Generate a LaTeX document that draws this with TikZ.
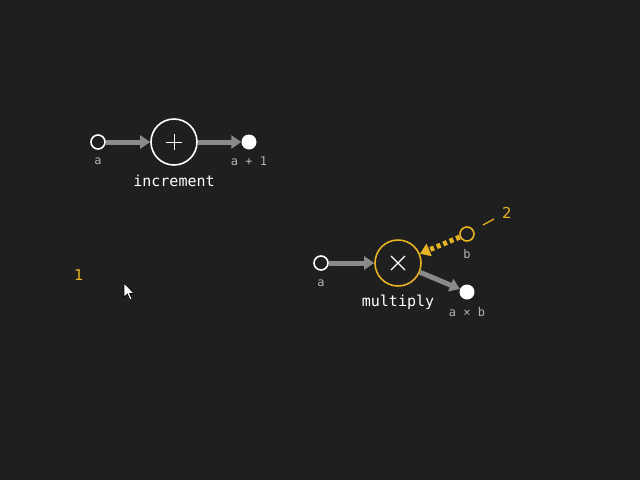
\documentclass[tikz,border=0pt]{standalone}
\usepackage{fontspec}
\setmonofont{DejaVu Sans Mono}
\setsansfont{DejaVu Sans}
\usetikzlibrary{arrows.meta}
\definecolor{bg}{HTML}{1F1F1F}
\definecolor{yel}{HTML}{E6B422}
\definecolor{arr}{HTML}{8A8A8A}
\definecolor{lbl}{HTML}{B4B4B4}
\begin{document}
\begin{tikzpicture}[x=1pt,y=-1pt,
  port/.style={circle,draw=white,line width=1.6pt,fill=bg,minimum size=14pt,inner sep=0pt},
  outport/.style={circle,fill=white,minimum size=15pt,inner sep=0pt},
  op/.style={circle,draw=white,line width=1.6pt,minimum size=46pt,inner sep=0pt,text=white},
  flow/.style={arr,line width=5pt,-{Triangle[length=10pt,width=13pt]}},
  lab/.style={text=lbl,font=\ttfamily\fontsize{12}{12}\selectfont},
  opname/.style={text=white,font=\ttfamily\fontsize{15}{15}\selectfont},
  ann/.style={text=yel,font=\sffamily\fontsize{15}{15}\selectfont}]
\fill[bg] (0,0) rectangle (640,480);
\useasboundingbox (0,0) rectangle (640,480);
% increment
\node[port] (ia) at (98,142) {};
\node[op] (inc) at (174,142) {};
\draw[white,line width=1pt] (166,142) -- (182,142) (174,134) -- (174,150);
\node[outport] (io) at (249,142) {};
\draw[flow] (ia) -- (inc);
\draw[flow] (inc) -- (io);
\node[lab] (ial) at (98,161) {a};
\node[lab] (iol) at (249,161) {a + 1};
\node[opname] (incn) at (174,181) {increment};
% multiply
\node[port] (ma) at (321,263) {};
\node[op,draw=yel] (mul) at (398,263) {};
\draw[white,line width=1.2pt] (391,256) -- (405,270) (405,256) -- (391,270);
\node[outport] (mo) at (467,292) {};
\node[port,draw=yel] (mb) at (467,234) {};
\draw[flow] (ma) -- (mul);
\draw[flow] (mul) -- (mo);
\draw[yel,line width=5pt,dash pattern=on 4pt off 3pt,-{Triangle[length=10pt,width=13pt]}] (mb) -- (mul);
\node[lab] (mal) at (321,283) {a};
\node[lab] (mbl) at (467,254) {b};
\node[lab] (mol) at (467,312) {a × b};
\node[opname] (muln) at (398,302) {multiply};
% annotations
\coordinate (l1) at (483,225);
\coordinate (l2) at (494,219);
\draw[yel,line width=1.3pt] (l1) -- (l2);
\node[ann] (n2) at (507,213) {2};
\node[ann] (n1) at (79,275) {1};
% cursor
\draw[fill=white,draw=black,line width=0.6pt,line join=round]
  (124,283) -- (124,297) -- (127.5,294) -- (130,300) -- (132,299) -- (129.5,293.5) -- (134,293.5) -- cycle;
\end{tikzpicture}
\end{document}
